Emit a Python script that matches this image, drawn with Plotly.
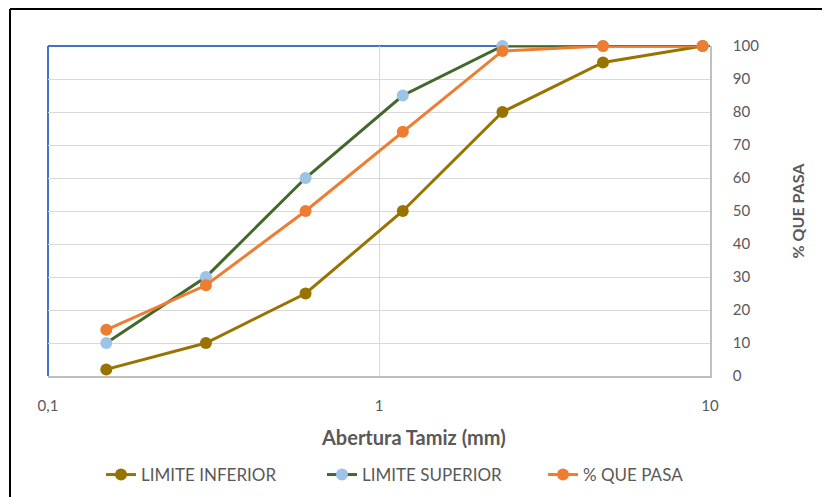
import plotly.graph_objects as go

aberturas = [0.15, 0.3, 0.6, 1.18, 2.36, 4.75, 9.5]
limite_inferior = [2, 10, 25, 50, 80, 95, 100]
limite_superior = [10, 30, 60, 85, 100, 100, 100]
que_pasa = [14, 27.5, 50, 74, 98.5, 100, 100]

x_tickvals = [0.1, 1, 10]
x_ticktext = ["0,1", "1", "10"]
y_tickvals = list(range(0, 101, 10))

FONT = "Lato, 'Open Sans', sans-serif"
TXT = "#595959"

fig = go.Figure()
fig.add_trace(go.Scatter(
    x=aberturas, y=limite_inferior, name="LIMITE INFERIOR", mode="lines+markers",
    line=dict(color="#997300", width=3), marker=dict(color="#997300", size=12),
    cliponaxis=False))
fig.add_trace(go.Scatter(
    x=aberturas, y=limite_superior, name="LIMITE SUPERIOR", mode="lines+markers",
    line=dict(color="#43682B", width=3), marker=dict(color="#9DC3E6", size=12),
    cliponaxis=False))
fig.add_trace(go.Scatter(
    x=aberturas, y=que_pasa, name="% QUE PASA", mode="lines+markers",
    line=dict(color="#ED7D31", width=3), marker=dict(color="#ED7D31", size=12),
    cliponaxis=False))

OFF = 8  # page body margin
W, H = 830 - OFF, 497 - OFF
L, T = 48 - OFF, 46 - OFF
pw, ph = 662, 330
R, B = W - L - pw, H - T - ph

def px_x(xr):
    return (xr - OFF - L) / pw

def px_y(yr):
    return (T + ph - (yr - OFF)) / ph

fig.update_layout(
    width=W, height=H,
    margin=dict(l=L, r=R, t=T, b=B, autoexpand=False),
    paper_bgcolor="white", plot_bgcolor="white",
    font=dict(family=FONT, color=TXT, size=15),
    showlegend=True,
    legend=dict(orientation="h", x=px_x(101), xanchor="left",
                y=px_y(475), yanchor="middle",
                font=dict(size=17, color=TXT),
                entrywidth=176, entrywidthmode="pixels"),
    xaxis=dict(type="log", range=[-1, 1], tickvals=x_tickvals, ticktext=x_ticktext,
               showgrid=True, gridcolor="#D9D9D9", gridwidth=1,
               showline=True, linecolor="#BFBFBF", linewidth=1.5,
               ticks="", ticklabelstandoff=15, zeroline=False,
               tickfont=dict(size=15, color=TXT)),
    yaxis=dict(range=[0, 100], side="right", tickvals=y_tickvals,
               showgrid=True, gridcolor="#D9D9D9", gridwidth=1,
               showline=True, linecolor="#BFBFBF", linewidth=1.5,
               ticks="", ticklabelstandoff=18, zeroline=False,
               tickfont=dict(size=15, color=TXT),
               title=dict(text="<b>% QUE PASA</b>", standoff=35,
                          font=dict(size=16, color=TXT))),
)

# x-axis title (centered on the chart area like the original)
fig.add_annotation(text="<b>Abertura Tamiz (mm)</b>", xref="paper", yref="paper",
                   x=px_x(414), y=px_y(437), xanchor="center", yanchor="middle",
                   showarrow=False, font=dict(size=20, color=TXT, family=FONT))

# blue top and left plot borders
fig.add_shape(type="line", xref="paper", yref="paper", x0=0, x1=1, y0=1, y1=1,
              line=dict(color="#4472C4", width=2), layer="below")
fig.add_shape(type="line", xref="paper", yref="paper", x0=0, x1=0, y0=0, y1=1,
              line=dict(color="#4472C4", width=2), layer="below")

# black outer frame (top and left)
bx = px_x(10)
by = px_y(9)
fig.add_shape(type="line", xref="paper", yref="paper", x0=bx, x1=px_x(840), y0=by, y1=by,
              line=dict(color="black", width=2))
fig.add_shape(type="line", xref="paper", yref="paper", x0=bx, x1=bx, y0=by, y1=px_y(505),
              line=dict(color="black", width=2))

fig.write_html("out.html")
